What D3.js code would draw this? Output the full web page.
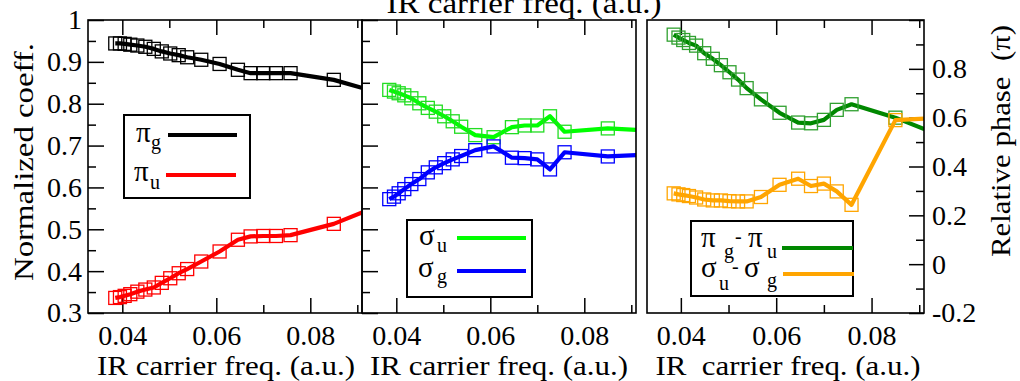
<!DOCTYPE html>
<html>
<head>
<meta charset="utf-8">
<script src="https://cdn.jsdelivr.net/npm/d3@7"></script>
<style>
  body { margin: 0; background: #fff; }
  svg text { font-family: "Liberation Serif", "Times New Roman", serif; fill: #000; }
</style>
</head>
<body>
<svg id="chart" width="1020" height="381"></svg>
<script>
// IR carrier frequency (a.u.) of each computed point; the last one lies past the axis end
const freq = [0.0385, 0.0395, 0.0405, 0.0417, 0.0432, 0.0449, 0.0467, 0.0484, 0.0502, 0.0520,
              0.0538, 0.0568, 0.0607, 0.0646, 0.0673, 0.0700, 0.0727, 0.0758, 0.0850, 0.0950];

// normalized coefficients, pi channels
const piG = [0.944, 0.944, 0.943, 0.941, 0.939, 0.936, 0.931, 0.925, 0.920, 0.916,
             0.911, 0.905, 0.895, 0.881, 0.873, 0.873, 0.873, 0.873, 0.857, 0.825];
const piU = [0.336, 0.338, 0.341, 0.345, 0.351, 0.356, 0.361, 0.372, 0.383, 0.395,
             0.405, 0.423, 0.447, 0.475, 0.483, 0.484, 0.484, 0.486, 0.513, 0.558];

// normalized coefficients, sigma channels
const sigmaU = [0.833, 0.829, 0.825, 0.820, 0.813, 0.801, 0.790, 0.781, 0.770, 0.758,
                0.745, 0.725, 0.720, 0.744, 0.748, 0.748, 0.770, 0.733, 0.741, 0.735];
const sigmaG = [0.572, 0.578, 0.586, 0.596, 0.608, 0.620, 0.636, 0.648, 0.658, 0.667,
                0.675, 0.689, 0.698, 0.671, 0.670, 0.667, 0.643, 0.684, 0.674, 0.679];

// relative phases (units of pi)
const phasePi = [0.940, 0.928, 0.918, 0.906, 0.895, 0.864, 0.841, 0.815, 0.786, 0.756,
                 0.721, 0.675, 0.620, 0.580, 0.577, 0.591, 0.632, 0.655, 0.600, 0.522];
const phaseSigma = [0.290, 0.286, 0.283, 0.279, 0.273, 0.265, 0.261, 0.261, 0.258, 0.257,
                    0.257, 0.275, 0.325, 0.350, 0.320, 0.330, 0.298, 0.243, 0.590, 0.600];

// tick values
const freqMajorTicks = [0.04, 0.06, 0.08];
const freqMinorTicks = [0.05, 0.07, 0.09];
const coeffMajorTicks = [0.3, 0.4, 0.5, 0.6, 0.7, 0.8, 0.9, 1.0];
const coeffMinorTicks = [0.35, 0.45, 0.55, 0.65, 0.75, 0.85, 0.95];
const phaseMajorTicks = [-0.2, 0, 0.2, 0.4, 0.6, 0.8, 1.0];
const phaseMinorTicks = [-0.1, 0.1, 0.3, 0.5, 0.7, 0.9];

const xTitle = "IR carrier freq. (a.u.)";

const svg = d3.select("#chart");
const plotTop = 20, plotBottom = 313;

const yCoeff = d3.scaleLinear().domain([0.3, 1.0]).range([plotBottom, plotTop]);
const yPhase = d3.scaleLinear().domain([-0.2, 1.0]).range([plotBottom, plotTop]);

function fmtCoeff(d) { return d === 1 ? "1" : d.toFixed(1); }
function fmtPhase(d) { return Math.abs(d) < 1e-9 ? "0" : d.toFixed(1); }

function styleAxis(g) {
  g.select(".domain").remove();
  g.selectAll(".tick line").attr("stroke", "#000").attr("stroke-width", 1.5);
  g.selectAll(".tick text").attr("font-size", 28).attr("font-family", "Liberation Serif, serif").attr("fill", "#000");
}

let clipId = 0;
function panel(opt) {
  const x = d3.scaleLinear().domain(opt.xDomain).range([opt.x0, opt.x1]);
  const y = opt.y;
  const g = svg.append("g");
  const id = "clip" + (clipId++);
  svg.append("clipPath").attr("id", id).append("rect")
    .attr("x", opt.x0).attr("y", plotTop).attr("width", opt.x1 - opt.x0).attr("height", plotBottom - plotTop);

  // bottom axis with labels
  g.append("g").attr("transform", `translate(0,${plotBottom})`)
    .call(d3.axisBottom(x).tickValues(freqMajorTicks).tickSize(-15).tickPadding(12).tickFormat(d3.format(".2f")))
    .call(styleAxis);
  g.append("g").attr("transform", `translate(0,${plotBottom})`)
    .call(d3.axisBottom(x).tickValues(freqMinorTicks).tickSize(-8).tickFormat(""))
    .call(styleAxis);
  // top axis, ticks only
  g.append("g").attr("transform", `translate(0,${plotTop})`)
    .call(d3.axisTop(x).tickValues(freqMajorTicks).tickSize(-15).tickFormat(""))
    .call(styleAxis);
  g.append("g").attr("transform", `translate(0,${plotTop})`)
    .call(d3.axisTop(x).tickValues(freqMinorTicks).tickSize(-8).tickFormat(""))
    .call(styleAxis);

  if (opt.yAxis === "left") {
    g.append("g").attr("transform", `translate(${opt.x0},0)`)
      .call(d3.axisLeft(y).tickValues(coeffMajorTicks).tickSize(-16).tickPadding(6)
        .tickFormat(opt.yLabels ? fmtCoeff : ""))
      .call(styleAxis);
    g.append("g").attr("transform", `translate(${opt.x0},0)`)
      .call(d3.axisLeft(y).tickValues(coeffMinorTicks).tickSize(-8).tickFormat(""))
      .call(styleAxis);
  } else if (opt.yAxis === "right") {
    const ax = g.append("g").attr("transform", `translate(${opt.x1},0)`)
      .call(d3.axisRight(y).tickValues(phaseMajorTicks).tickSize(-15).tickPadding(8).tickFormat(fmtPhase))
      .call(styleAxis);
    ax.selectAll(".tick text").filter(d => d > 0.95).remove();
    g.append("g").attr("transform", `translate(${opt.x1},0)`)
      .call(d3.axisRight(y).tickValues(phaseMinorTicks).tickSize(-8).tickFormat(""))
      .call(styleAxis);
  }

  // series
  const plot = g.append("g").attr("clip-path", `url(#${id})`);
  opt.series.forEach(s => {
    const pts = freq.map((f, i) => [f, s.values[i]]);
    plot.append("path").datum(pts)
      .attr("fill", "none").attr("stroke", s.color).attr("stroke-width", 4.2)
      .attr("stroke-linejoin", "round")
      .attr("d", d3.line().x(d => x(d[0])).y(d => y(d[1])));
    plot.append("g").selectAll("rect").data(pts).join("rect")
      .attr("x", d => x(d[0]) - 6.5).attr("y", d => y(d[1]) - 6.5)
      .attr("width", 13).attr("height", 13)
      .attr("fill", "none").attr("stroke", s.marker || s.color).attr("stroke-width", 1.3);
  });

  // frame
  g.append("rect").attr("x", opt.x0).attr("y", plotTop)
    .attr("width", opt.x1 - opt.x0).attr("height", plotBottom - plotTop)
    .attr("fill", "none").attr("stroke", "#000").attr("stroke-width", 1.6);

  // x title
  g.append("text").attr("x", opt.titleX).attr("y", 375).attr("text-anchor", "middle")
    .attr("font-size", 28).style("white-space", "pre")
    .attr("textLength", opt.titleLen).attr("lengthAdjust", "spacingAndGlyphs")
    .text(opt.xTitle);

  // legend
  const L = opt.legend;
  const lg = g.append("g").attr("transform", `translate(${L.x},${L.y})`);
  lg.append("rect").attr("width", L.w).attr("height", L.h)
    .attr("fill", "#fff").attr("stroke", "#000").attr("stroke-width", 2);
  L.items.forEach(it => {
    const t = lg.append("text");
    it.parts.forEach(p => {
      t.append("tspan").attr("x", p.x).attr("y", p.y).attr("font-size", p.size).text(p.t);
    });
    lg.append("line").attr("x1", it.line[0]).attr("x2", it.line[1])
      .attr("y1", it.line[2]).attr("y2", it.line[2])
      .attr("stroke", it.color).attr("stroke-width", 4.2);
  });
  return x;
}

// left panel: pi coefficients
panel({
  x0: 88, x1: 362, xDomain: [0.0327, 0.091], y: yCoeff, yAxis: "left", yLabels: true,
  series: [{ values: piG, color: "#000" }, { values: piU, color: "#ff0000" }],
  titleX: 226, titleLen: 258, xTitle: xTitle,
  legend: { x: 124, y: 115, w: 126, h: 83, items: [
    { color: "#000", line: [44, 113, 20],
      parts: [{ t: "π", x: 12, y: 27, size: 29 }, { t: "g", x: 27, y: 34, size: 20 }] },
    { color: "#ff0000", line: [42, 112, 60],
      parts: [{ t: "π", x: 10, y: 66, size: 29 }, { t: "u", x: 26, y: 74, size: 20 }] }
  ]}
});

// middle panel: sigma coefficients
panel({
  x0: 362, x1: 636, xDomain: [0.0327, 0.091], y: yCoeff, yAxis: "left", yLabels: false,
  series: [{ values: sigmaU, color: "#00ff00", marker: "#22dd22" }, { values: sigmaG, color: "#0000ff" }],
  titleX: 499, titleLen: 258, xTitle: xTitle,
  legend: { x: 407, y: 220, w: 125, h: 77, items: [
    { color: "#00ff00", line: [50, 119, 18],
      parts: [{ t: "σ", x: 12, y: 25, size: 29 }, { t: "u", x: 30, y: 32, size: 20 }] },
    { color: "#0000ff", line: [50, 119, 51],
      parts: [{ t: "σ", x: 11, y: 57, size: 29 }, { t: "g", x: 30, y: 63, size: 20 }] }
  ]}
});

// right panel: relative phases
panel({
  x0: 647, x1: 924, xDomain: [0.0329, 0.091], y: yPhase, yAxis: "right",
  series: [{ values: phasePi, color: "#008800", marker: "#30a030" }, { values: phaseSigma, color: "#ffa500" }],
  titleX: 788, titleLen: 265, xTitle: "IR  carrier freq. (a.u.)",
  legend: { x: 691, y: 221, w: 162, h: 75, items: [
    { color: "#008800", line: [91, 162, 27],
      parts: [{ t: "π", x: 10, y: 26, size: 29 }, { t: "g", x: 33, y: 37, size: 20 },
              { t: "-", x: 44, y: 22, size: 20 }, { t: "π", x: 57, y: 26, size: 29 },
              { t: "u", x: 76, y: 37, size: 20 }] },
    { color: "#ffa500", line: [92, 163, 53],
      parts: [{ t: "σ", x: 10, y: 56, size: 29 }, { t: "u", x: 28, y: 69, size: 20 },
              { t: "-", x: 41, y: 52, size: 20 }, { t: "σ", x: 53, y: 56, size: 29 },
              { t: "g", x: 76, y: 66, size: 20 }] }
  ]}
});

// axis titles
svg.append("text").attr("x", 524).attr("y", 13).attr("text-anchor", "middle")
  .attr("font-size", 29).attr("textLength", 275).attr("lengthAdjust", "spacingAndGlyphs").text(xTitle);
svg.append("text").attr("transform", "translate(33,162) rotate(-90)").attr("text-anchor", "middle")
  .attr("font-size", 28).attr("textLength", 238).attr("lengthAdjust", "spacingAndGlyphs")
  .text("Normalized coeff.");
svg.append("text").attr("transform", "translate(1010,141) rotate(-90)").attr("text-anchor", "middle")
  .attr("font-size", 28).style("white-space", "pre")
  .attr("textLength", 232).attr("lengthAdjust", "spacingAndGlyphs").text("Relative phase  (π)");
</script>
</body>
</html>
